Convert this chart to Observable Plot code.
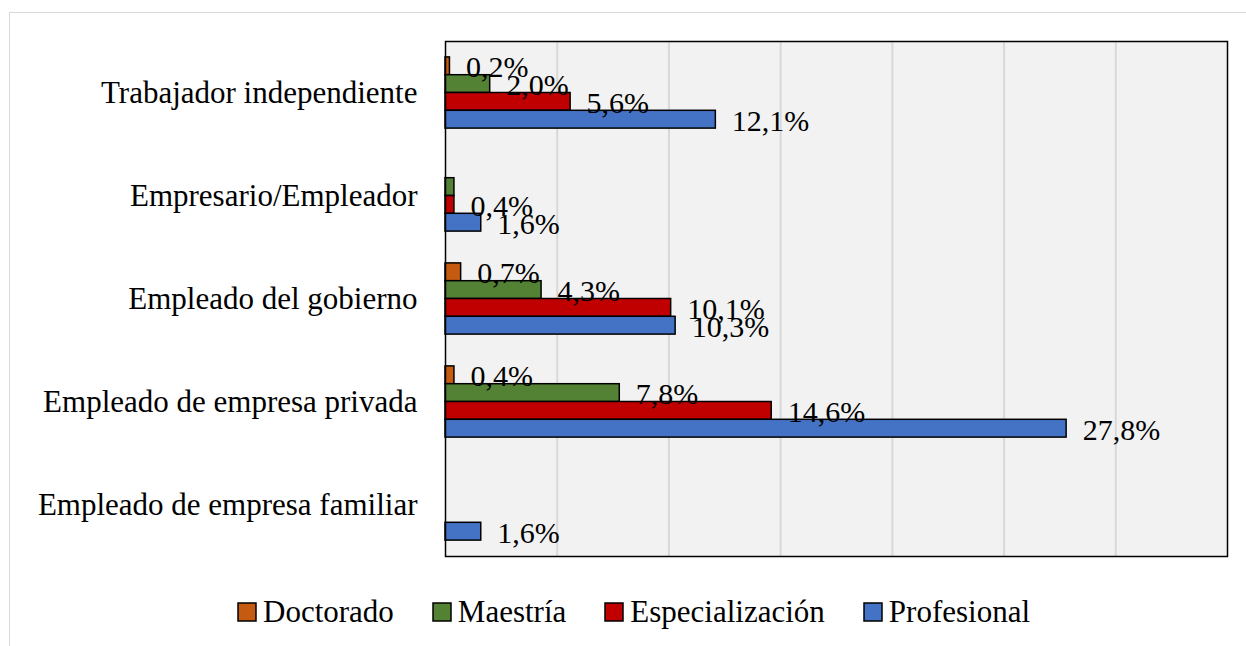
<!DOCTYPE html>
<html>
<head>
<meta charset="utf-8">
<script src="https://cdn.jsdelivr.net/npm/d3@7"></script>
<script src="https://cdn.jsdelivr.net/npm/@observablehq/plot@0.6"></script>
<style>
  body { margin: 0; background: #ffffff; }
  #wrap { position: relative; width: 1246px; height: 646px; overflow: hidden; font-family: "Liberation Serif", "Times New Roman", serif; }
  #outer { position: absolute; left: 9px; top: 12px; width: 1400px; height: 800px; border: 1px solid #d9d9d9; box-sizing: border-box; }
  #chart { position: absolute; left: 0; top: 0; }
  #legend { position: absolute; left: 238px; top: 594px; }
  .lg-swatch { margin-right: 39px !important; }
  .lg-swatch > svg { margin-right: 7px !important; overflow: visible !important; }
  .lg-swatch rect { stroke: #000; stroke-width: 1.5px; }
</style>
</head>
<body>
<div id="wrap">
  <div id="outer"></div>
  <div id="chart"></div>
  <div id="legend"></div>
</div>
<script>
// ---- data ----
const categories = [
  "Trabajador independiente",
  "Empresario/Empleador",
  "Empleado del gobierno",
  "Empleado de empresa privada",
  "Empleado de empresa familiar"
];
const series = ["Doctorado", "Maestría", "Especialización", "Profesional"];
const doctorado       = [0.2, 0.0, 0.7, 0.4, 0.0];
const maestria        = [2.0, 0.4, 4.3, 7.8, 0.0];
const especializacion = [5.6, 0.4, 10.1, 14.6, 0.0];
const profesional     = [12.1, 1.6, 10.3, 27.8, 1.6];
const xTicks = [0, 5, 10, 15, 20, 25, 30, 35];
// label not shown in the original (overlapping label removed)
const hiddenLabels = [["Maestría", "Empresario/Empleador"]];
const colors = ["#C55A11", "#548235", "#C00000", "#4472C4"];

const seriesValues = [doctorado, maestria, especializacion, profesional];
const rows = series.flatMap((s, i) =>
  categories.map((c, j) => ({ series: s, category: c, value: seriesValues[i][j] }))
);
const fmt = v => v.toFixed(1).replace(".", ",") + "%";
const isHidden = d => hiddenLabels.some(([s, c]) => s === d.series && c === d.category);

// ---- layout ----
const W = 1246, H = 575, mT = 41, mB = 19, mL = 445, mR = 19;
const bw = (H - mT - mB) / categories.length;
const bh = bw * 0.1728;
const off = (bw - series.length * bh) / 2;
const serif = '"Liberation Serif", "Times New Roman", serif';

const marks = [Plot.frame({ fill: "#F2F2F2" })];
marks.push(Plot.ruleX(xTicks.slice(1, -1), { stroke: "#D9D9D9", strokeWidth: 2 }));
series.forEach((s, i) => {
  marks.push(Plot.barX(rows.filter(d => d.series === s && d.value > 0), {
    x: "value", y: "category", fill: colors[i], stroke: "#000", strokeWidth: 1.5,
    insetTop: off + i * bh, insetBottom: bw - off - (i + 1) * bh
  }));
});
marks.push(Plot.frame({ stroke: "#000", strokeWidth: 1.5 }));
series.forEach((s, i) => {
  marks.push(Plot.text(rows.filter(d => d.series === s && d.value > 0 && !isHidden(d)), {
    x: "value", y: "category", text: d => fmt(d.value),
    dx: 16, dy: off + (i + 0.5) * bh - bw / 2 + 1.5,
    textAnchor: "start", fontSize: 30, fontFamily: serif, fill: "#000"
  }));
});

const chart = Plot.plot({
  width: W, height: H,
  marginTop: mT, marginBottom: mB, marginLeft: mL, marginRight: mR,
  style: { background: "none", fontFamily: serif, fontSize: "31px", color: "#000", overflow: "visible" },
  x: { domain: [xTicks[0], xTicks[xTicks.length - 1]], axis: null },
  y: { domain: categories, padding: 0, tickSize: 0, tickPadding: 28, label: null },
  marks
});
document.getElementById("chart").appendChild(chart);

const legend = Plot.legend({
  legend: "swatches",
  color: { type: "categorical", domain: series, range: colors },
  swatchSize: 18,
  className: "lg",
  style: { fontFamily: serif, fontSize: "31px", color: "#000", background: "none" }
});
document.getElementById("legend").appendChild(legend);
</script>
</body>
</html>
